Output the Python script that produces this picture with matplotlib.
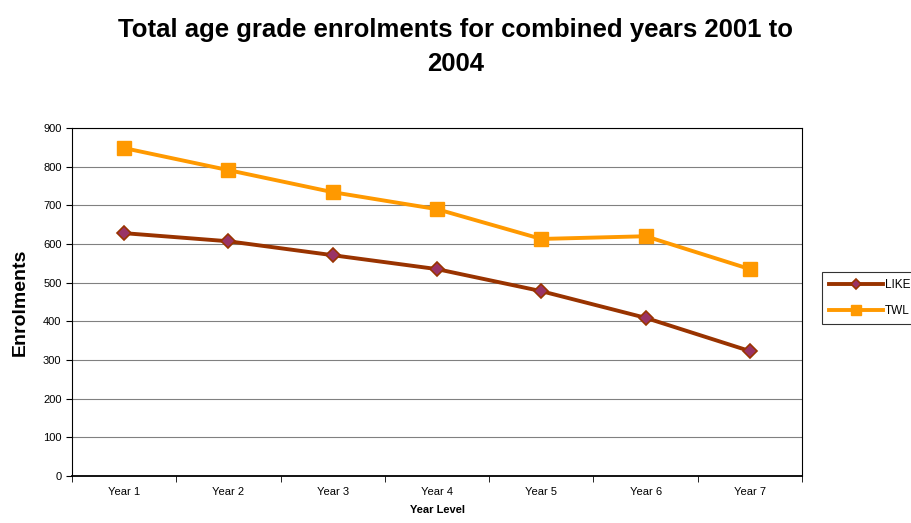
import numpy as np
from matplotlib import pyplot as plt

plt.rcParams['font.family'] = ['Liberation Sans', 'DejaVu Sans']

years = ['Year 1', 'Year 2', 'Year 3', 'Year 4', 'Year 5', 'Year 6', 'Year 7']
like = [628, 607, 571, 535, 478, 409, 323]
twl = [848, 791, 734, 690, 613, 620, 535]

fig = plt.figure(figsize=(9.11, 5.23), dpi=100)
ax = fig.add_axes([0.079, 0.0899, 0.8014, 0.6654])

x = np.arange(len(years))
ax.plot(x, like, color='#993300', lw=2.8, marker='D', ms=7,
        mfc='#993366', mec='#993300', mew=1.2, label='LIKE', zorder=3)
ax.plot(x, twl, color='#FF9900', lw=2.8, marker='s', ms=10,
        mfc='#FF9900', mec='#FF9900', label='TWL', zorder=3)

ax.set_xlim(-0.5, len(years) - 0.5)
ax.set_ylim(0, 900)
ax.set_yticks(range(0, 901, 100))
ax.set_xticks(x)
ax.set_xticklabels(years)
ax.set_xticks(np.arange(-0.5, len(years), 1), minor=True)
ax.tick_params(axis='x', which='major', length=0, labelsize=8, pad=8)
ax.tick_params(axis='x', which='minor', length=4, direction='out')
ax.tick_params(axis='y', labelsize=8, length=4, direction='out')
ax.grid(axis='y', color='#808080', lw=0.8)
ax.set_axisbelow(True)
for s in ax.spines.values():
    s.set_color('black')
    s.set_linewidth(0.8)
ax.spines['bottom'].set_linewidth(1.3)

ax.set_xlabel('Year Level', fontsize=8, fontweight='bold', labelpad=6)
ax.set_ylabel('Enrolments', fontsize=14, fontweight='bold', labelpad=10)

fig.text(0.5, 0.965, 'Total age grade enrolments for combined years 2001 to\n2004',
         ha='center', va='top', fontsize=18.5, fontweight='bold', linespacing=1.5)

leg = ax.legend(loc='upper left', bbox_to_anchor=(822 / 911, 1 - 272 / 523),
                bbox_transform=fig.transFigure, fontsize=8.5, frameon=True,
                fancybox=False, edgecolor='black', handlelength=4.6,
                handletextpad=0.1, borderpad=0.6, labelspacing=1.2,
                borderaxespad=0, markerscale=0.75)
leg.get_frame().set_linewidth(0.8)

fig.savefig('out.png', dpi=100)
